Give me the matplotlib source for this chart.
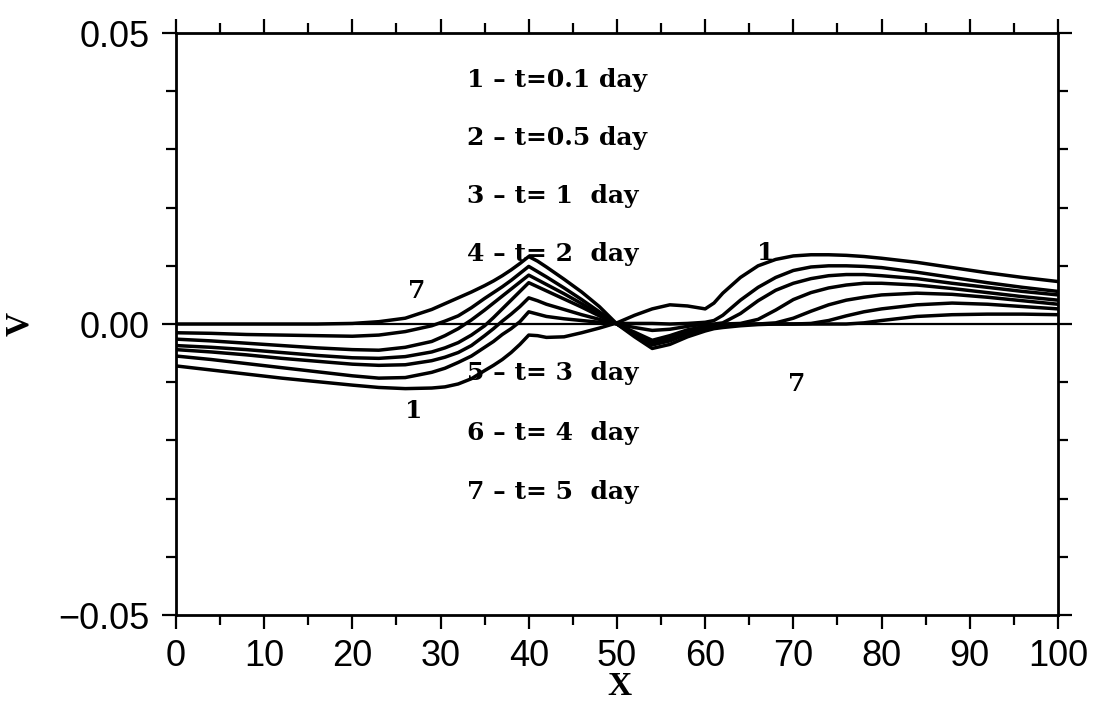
import matplotlib
matplotlib.use("Agg")
import matplotlib.pyplot as plt
from matplotlib.ticker import MultipleLocator

# ---- data ----
x = [0, 4, 8, 12, 16, 20, 23, 26, 29, 30.5, 32, 33.5, 35, 36, 37, 38, 39, 40, 41, 42, 44, 46, 48, 50,
     52, 54, 56, 58, 60, 61, 62, 64, 66, 68, 70, 72, 74, 76, 78, 80, 84, 88, 92, 96, 100]

v1 = [-0.0072, -0.0079, -0.0086, -0.0093, -0.0099, -0.0105, -0.0109, -0.0111,
      -0.0110, -0.0108, -0.0103, -0.0094, -0.0080, -0.0071, -0.0061, -0.0049, -0.0035, -0.0019,
      -0.0020, -0.0023, -0.0022, -0.0015, -0.0007, 0.0002,
      0.0015, 0.0026, 0.0033, 0.0031, 0.0026, 0.0036, 0.0053,
      0.0080, 0.0100, 0.0111, 0.0117, 0.0119, 0.0119, 0.0118, 0.0116, 0.0113,
      0.0106, 0.0097, 0.0088, 0.0080, 0.0073]

v2 = [-0.0055, -0.0061, -0.0068, -0.0075, -0.0082, -0.0089, -0.0093, -0.0092,
      -0.0083, -0.0076, -0.0066, -0.0055, -0.0040, -0.0030, -0.0018, -0.0008, 0.0004, 0.0021,
      0.0017, 0.0013, 0.0009, 0.0006, 0.0003, 0.0001,
      0.0001, 0.0001, 0.0000, 0.0001, 0.0003, 0.0006, 0.0015,
      0.0041, 0.0063, 0.0080, 0.0092, 0.0098, 0.0100, 0.0100, 0.0099, 0.0097,
      0.0089, 0.0080, 0.0071, 0.0063, 0.0056]

v3 = [-0.0044, -0.0048, -0.0053, -0.0059, -0.0064, -0.0069, -0.0071, -0.0070,
      -0.0063, -0.0057, -0.0049, -0.0037, -0.0020, -0.0008, 0.0005, 0.0017, 0.0030, 0.0045,
      0.0040, 0.0034, 0.0025, 0.0016, 0.0008, 0.0000,
      -0.0006, -0.0011, -0.0009, -0.0004, 0.0000, 0.0000, 0.0002,
      0.0018, 0.0040, 0.0058, 0.0070, 0.0078, 0.0083, 0.0085, 0.0085, 0.0083,
      0.0078, 0.0070, 0.0063, 0.0056, 0.0050]

v4 = [-0.0037, -0.0040, -0.0044, -0.0049, -0.0054, -0.0058, -0.0059, -0.0056,
      -0.0048, -0.0041, -0.0032, -0.0019, -0.0003, 0.0011, 0.0026, 0.0041, 0.0056, 0.0071,
      0.0064, 0.0057, 0.0043, 0.0029, 0.0014, 0.0000,
      -0.0014, -0.0028, -0.0020, -0.0010, -0.0004, -0.0002, 0.0000,
      0.0001, 0.0008, 0.0024, 0.0042, 0.0054, 0.0062, 0.0067, 0.0070, 0.0070,
      0.0067, 0.0061, 0.0054, 0.0047, 0.0041]

v5 = [-0.0026, -0.0029, -0.0033, -0.0037, -0.0041, -0.0044, -0.0045, -0.0040,
      -0.0030, -0.0020, -0.0008, 0.0007, 0.0024, 0.0036, 0.0048, 0.0060, 0.0072, 0.0084,
      0.0076, 0.0068, 0.0052, 0.0035, 0.0017, 0.0000,
      -0.0016, -0.0032, -0.0025, -0.0014, -0.0006, -0.0004, -0.0002,
      0.0000, 0.0000, 0.0002, 0.0010, 0.0022, 0.0033, 0.0041, 0.0046, 0.0050,
      0.0053, 0.0051, 0.0046, 0.0040, 0.0034]

v6 = [-0.0015, -0.0016, -0.0018, -0.0019, -0.0020, -0.0021, -0.0019, -0.0013,
      -0.0003, 0.0005, 0.0014, 0.0028, 0.0044, 0.0054, 0.0064, 0.0075, 0.0087, 0.0099,
      0.0090, 0.0081, 0.0062, 0.0042, 0.0021, 0.0000,
      -0.0019, -0.0036, -0.0029, -0.0017, -0.0008, -0.0005, -0.0003,
      -0.0001, 0.0000, 0.0000, 0.0000, 0.0001, 0.0006, 0.0014, 0.0021, 0.0026,
      0.0033, 0.0036, 0.0034, 0.0030, 0.0026]

v7 = [0.0000, 0.0000, 0.0000, 0.0000, 0.0000, 0.0001, 0.0004, 0.0010,
      0.0025, 0.0035, 0.0045, 0.0055, 0.0066, 0.0074, 0.0083, 0.0093, 0.0104, 0.0116,
      0.0108, 0.0098, 0.0077, 0.0055, 0.0030, 0.0000,
      -0.0022, -0.0042, -0.0035, -0.0022, -0.0012, -0.0008, -0.0006,
      -0.0003, -0.0001, 0.0000, 0.0000, 0.0000, 0.0000, 0.0000, 0.0002, 0.0006,
      0.0013, 0.0016, 0.0017, 0.0017, 0.0016]

curves = [v1, v2, v3, v4, v5, v6, v7]

legend_labels = ["1 – t=0.1 day", "2 – t=0.5 day", "3 – t= 1  day", "4 – t= 2  day",
                 "5 – t= 3  day", "6 – t= 4  day", "7 – t= 5  day"]
legend_y = [0.042, 0.032, 0.022, 0.012, -0.0085, -0.0187, -0.0288]

curve_tags = ["7", "1", "1", "7"]
curve_tag_pos = [(27.3, 0.0057), (27.0, -0.0150), (66.9, 0.0122), (70.4, -0.0103)]

xticks = [0, 10, 20, 30, 40, 50, 60, 70, 80, 90, 100]
yticks = [-0.05, 0.00, 0.05]
yticklabels = ["−0.05", "0.00", "0.05"]

# ---- figure ----
fig = plt.figure(figsize=(10.97, 7.04), dpi=100)
ax = fig.add_axes([0.1604, 0.1264, 0.804, 0.8267])

ax.axhline(0.0, color="black", lw=1.6, zorder=2)
for v in curves:
    ax.plot(x, v, color="black", lw=2.5, solid_joinstyle="round", zorder=3)

ax.set_xlim(0, 100)
ax.set_ylim(-0.05, 0.05)

ax.set_xticks(xticks)
ax.set_xticklabels([str(t) for t in xticks])
ax.xaxis.set_minor_locator(MultipleLocator(5))
ax.set_yticks(yticks)
ax.set_yticklabels(yticklabels)
ax.yaxis.set_minor_locator(MultipleLocator(0.01))

ax.tick_params(which="both", direction="out", top=True, right=True,
               labeltop=False, labelright=False, width=1.6, color="black")
ax.tick_params(which="major", length=10)
ax.tick_params(which="minor", length=7)
ax.tick_params(axis="y", which="major", pad=9)
ax.tick_params(axis="x", which="major", pad=7)
for lab in ax.get_xticklabels() + ax.get_yticklabels():
    lab.set_fontfamily("Liberation Sans")
    lab.set_fontsize(26)

for s in ax.spines.values():
    s.set_linewidth(2.0)

ax.set_xlabel("X", fontfamily="Liberation Serif", fontweight="bold", fontsize=24)
ax.xaxis.set_label_coords(0.503, -0.097)
ax.set_ylabel("V", fontfamily="Liberation Serif", fontweight="bold", fontsize=24)
ax.yaxis.set_label_coords(-0.160, 0.5)

for lab, yy in zip(legend_labels, legend_y):
    ax.text(33.0, yy, lab, fontfamily="DejaVu Serif", fontweight="bold",
            fontsize=18, ha="left", va="center", zorder=4)

for tag, (tx, ty) in zip(curve_tags, curve_tag_pos):
    ax.text(tx, ty, tag, fontfamily="DejaVu Serif", fontweight="bold",
            fontsize=18, ha="center", va="center", zorder=4)

fig.savefig("out.png", dpi=100, facecolor="white")
